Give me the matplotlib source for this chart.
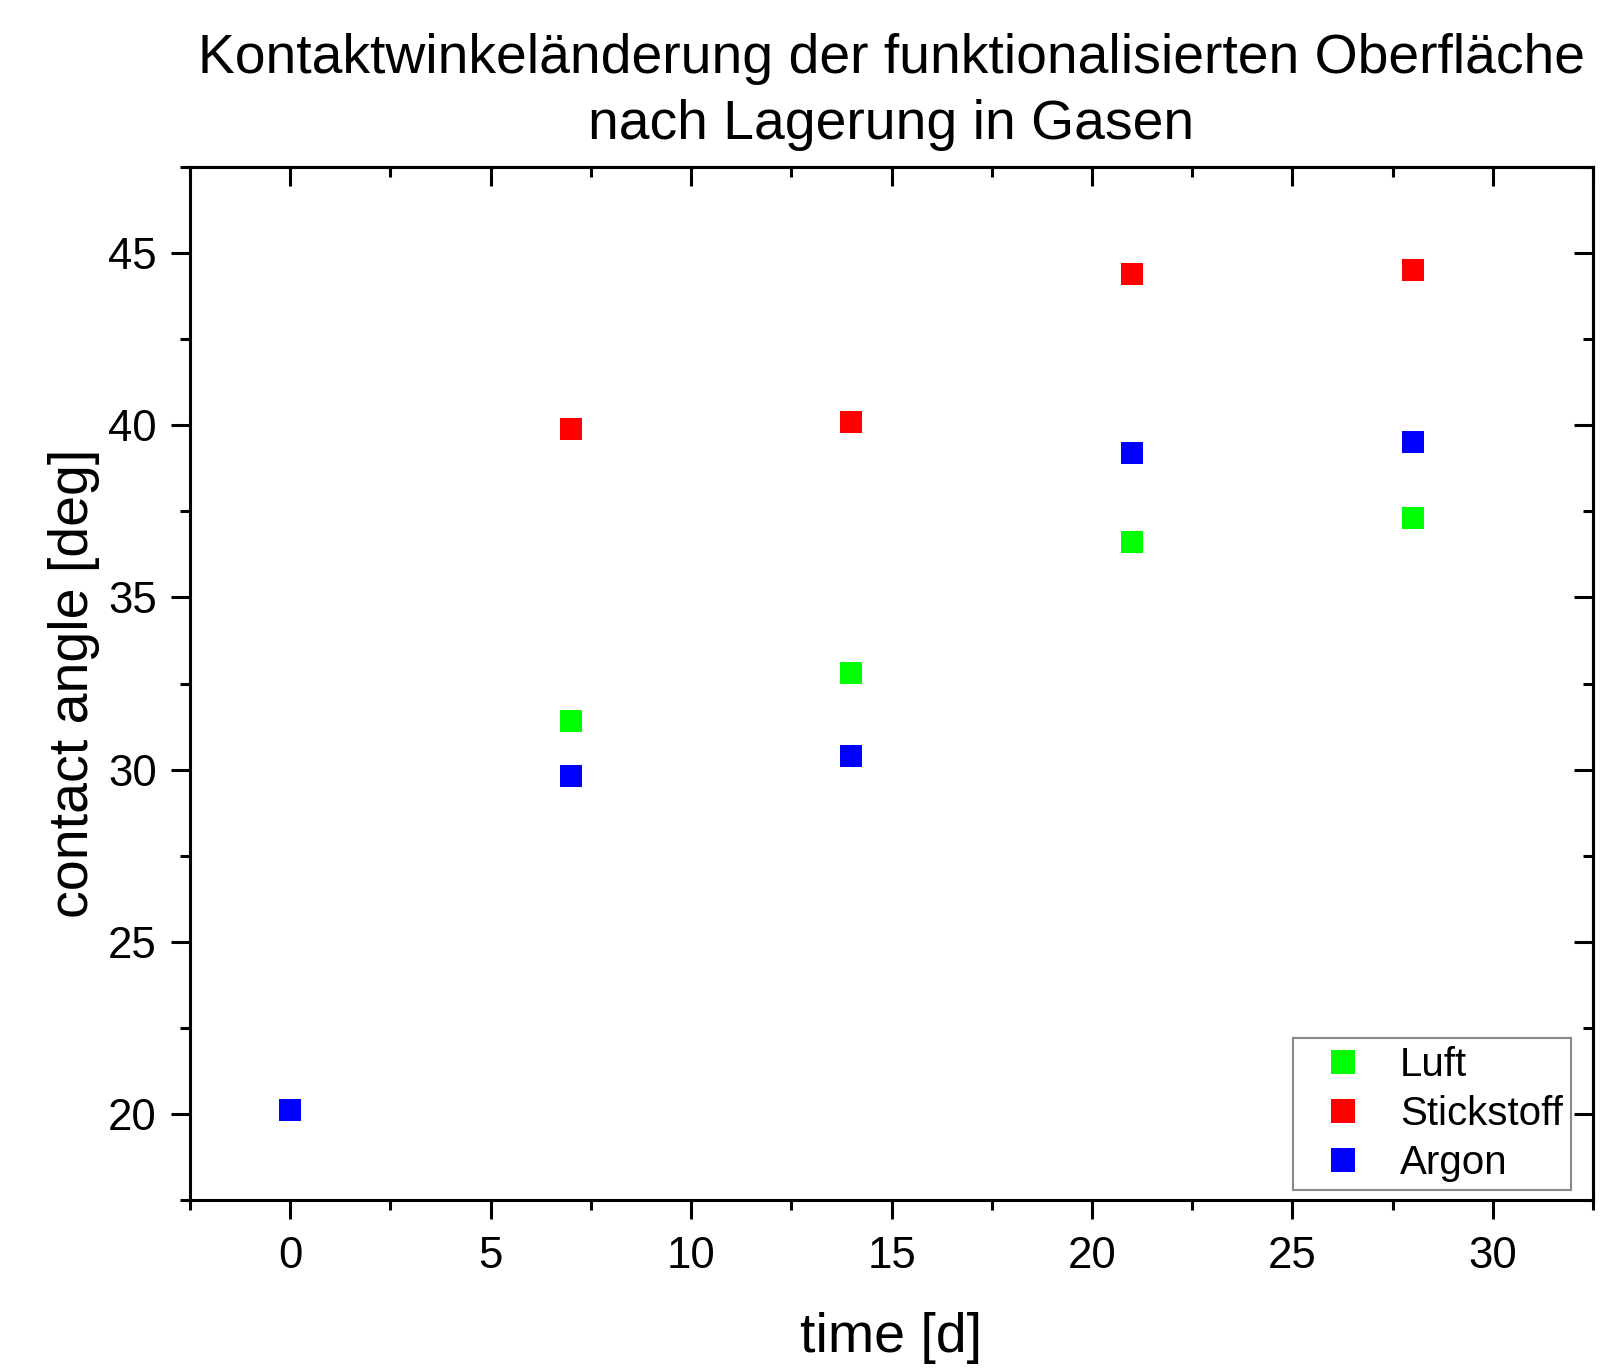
import matplotlib
matplotlib.use("Agg")
import matplotlib.pyplot as plt
from matplotlib.ticker import MultipleLocator

plt.rcParams['font.family'] = ['Liberation Sans', 'DejaVu Sans']

# data
luft_days = [7, 14, 21, 28]
luft = [31.4, 32.8, 36.6, 37.3]
stick_days = [7, 14, 21, 28]
stickstoff = [39.9, 40.1, 44.4, 44.5]
argon_days = [0, 7, 14, 21, 28]
argon = [20.1, 29.8, 30.4, 39.2, 39.5]

fig = plt.figure(figsize=(16.08, 13.68), dpi=100)
ax = fig.add_axes([0.1182, 0.1228, 0.9907 - 0.1182, 0.8779 - 0.1228])

ms = 15.5
ax.plot(luft_days, luft, 's', color='#00ff00', ms=ms, mew=0, label='Luft')
ax.plot(stick_days, stickstoff, 's', color='#ff0000', ms=ms, mew=0, label='Stickstoff')
ax.plot(argon_days, argon, 's', color='#0000ff', ms=ms, mew=0, label='Argon')

ax.set_xlim(-2.5, 32.5)
ax.set_ylim(17.5, 47.5)
ax.xaxis.set_major_locator(MultipleLocator(5))
ax.xaxis.set_minor_locator(MultipleLocator(2.5))
ax.yaxis.set_major_locator(MultipleLocator(5))
ax.yaxis.set_minor_locator(MultipleLocator(2.5))

lw = 2.2
for s in ax.spines.values():
    s.set_linewidth(lw)

# bottom/left ticks point out, top/right point in (Origin style)
ax.tick_params(which='major', length=14, width=lw, labelsize=31.5)
ax.tick_params(which='minor', length=7, width=lw)
ax.tick_params(axis='x', which='major', pad=12)
ax.tick_params(axis='y', which='major', pad=10)

sx = ax.secondary_xaxis('top')
sx.set_xticks(range(0, 31, 5))
sx.xaxis.set_minor_locator(MultipleLocator(2.5))
sx.tick_params(which='major', direction='in', length=14, width=lw, labeltop=False)
sx.tick_params(which='minor', direction='in', length=7, width=lw)
sx.spines['top'].set_linewidth(lw)

sy = ax.secondary_yaxis('right')
sy.set_yticks(range(20, 46, 5))
sy.yaxis.set_minor_locator(MultipleLocator(2.5))
sy.tick_params(which='major', direction='in', length=14, width=lw, labelright=False)
sy.tick_params(which='minor', direction='in', length=7, width=lw)
sy.spines['right'].set_linewidth(lw)

ax.set_xlabel('time [d]', fontsize=40, labelpad=25)
ax.set_ylabel('contact angle [deg]', fontsize=40, labelpad=6)
ax.set_title('Kontaktwinkeländerung der funktionalisierten Oberfläche\nnach Lagerung in Gasen',
             fontsize=39.8, pad=20, linespacing=1.35)

leg = ax.legend(loc='lower right', bbox_to_anchor=(0.9843, 0.0097), borderaxespad=0,
                fontsize=29, fancybox=False, edgecolor='#888888', framealpha=1,
                handletextpad=0.36, labelspacing=0.27, borderpad=0.2, handlelength=2.09,
                markerscale=1.1)
leg.get_frame().set_linewidth(1.5)

fig.savefig('out.png', dpi=100)
